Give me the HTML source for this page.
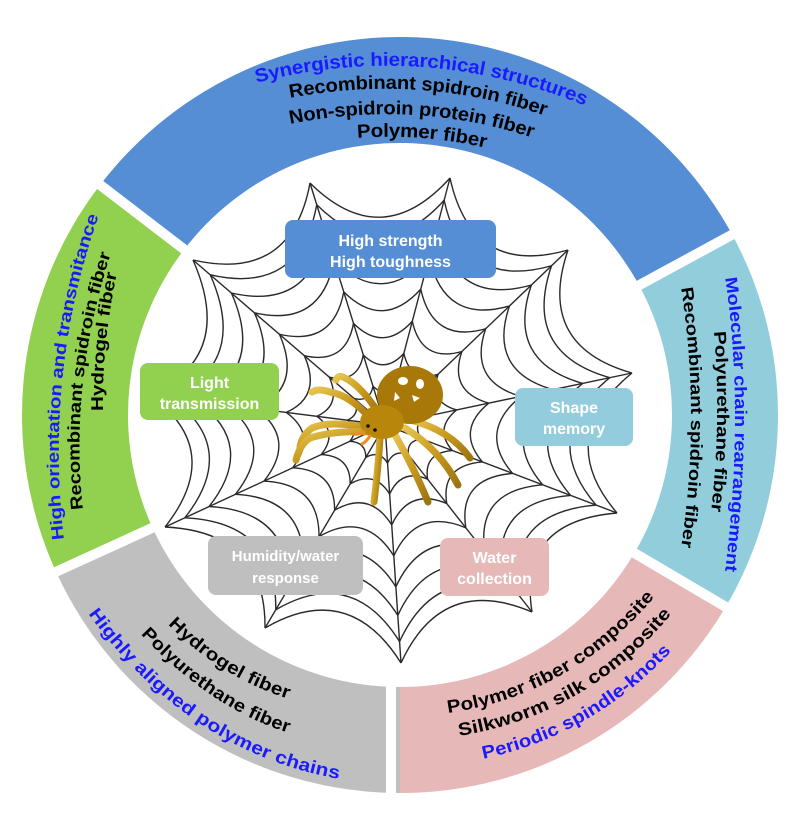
<!DOCTYPE html>
<html><head><meta charset="utf-8">
<style>
html,body{margin:0;padding:0;background:#fff;}
svg{display:block;}
.lbl{font-family:"Liberation Sans",Arial,sans-serif;font-weight:bold;}
</style></head>
<body>
<svg id="s" width="797" height="822" viewBox="0 0 797 822" xmlns="http://www.w3.org/2000/svg">
<defs>
<linearGradient id="leg" x1="0" y1="0" x2="1" y2="1">
<stop offset="0" stop-color="#e6c450"/><stop offset="0.5" stop-color="#c99a1e"/><stop offset="1" stop-color="#9c7410"/>
</linearGradient>
<path id="t1"/><path id="t2"/><path id="t3"/><path id="t4"/>
<path id="g1"/><path id="g2"/><path id="g3"/>
<path id="c1"/><path id="c2"/><path id="c3"/>
<path id="r1"/><path id="r2"/><path id="r3"/>
<path id="k1"/><path id="k2"/><path id="k3"/>
</defs>
<g id="ring"></g>
<g id="web" fill="none" stroke="#2a2a2a" stroke-width="1.4"></g>

<g id="spider">
<g fill="none" stroke="url(#leg)" stroke-width="7" stroke-linecap="round" stroke-linejoin="round">
<path d="M372,420 Q350,395 330,392 Q318,388 312,392"/>
<path d="M378,412 Q360,385 345,378 Q338,374 336,380"/>
<path d="M368,428 Q330,420 312,428 Q302,435 300,447"/>
<path d="M372,432 Q335,430 310,438 Q300,444 296,460"/>
<path d="M380,438 Q378,470 374,502"/>
<path d="M395,435 Q415,470 428,502"/>
<path d="M405,428 Q440,450 458,485"/>
<path d="M410,420 Q450,430 470,458"/>
</g>
<ellipse cx="410" cy="395" rx="33" ry="29" fill="#a87808"/>
<ellipse cx="382" cy="422" rx="22" ry="17" fill="#b8860b"/>
<ellipse cx="403" cy="381" rx="5" ry="4" fill="#fff"/>
<ellipse cx="420" cy="384" rx="4" ry="5" fill="#fff"/>
<path d="M395,392 l5,6 l-6,3 z" fill="#fff"/>
<path d="M412,395 l8,3 l-6,4 z" fill="#fff"/>
<circle cx="368" cy="426" r="1.8" fill="#111"/><circle cx="375" cy="430" r="1.8" fill="#111"/>
<path d="M364,432 q-6,3 -10,2 M370,436 q-4,6 -8,8" stroke="#f08a1a" stroke-width="3" fill="none" stroke-linecap="round"/>
</g>

<rect x="285" y="220" width="211" height="58" rx="8" fill="#558ed5"/>
<text class="lbl" x="390.5" y="246" font-size="16" fill="#fff" text-anchor="middle">High strength</text>
<text class="lbl" x="390.5" y="267" font-size="16" fill="#fff" text-anchor="middle">High toughness</text>

<rect x="140" y="363" width="139" height="57" rx="8" fill="#92d050"/>
<text class="lbl" x="209.5" y="388" font-size="16" fill="#fff" text-anchor="middle">Light</text>
<text class="lbl" x="209.5" y="409" font-size="16" fill="#fff" text-anchor="middle">transmission</text>

<rect x="515" y="388" width="118" height="58" rx="8" fill="#93cddd"/>
<text class="lbl" x="574" y="413" font-size="16" fill="#fff" text-anchor="middle">Shape</text>
<text class="lbl" x="574" y="434" font-size="16" fill="#fff" text-anchor="middle">memory</text>

<rect x="208" y="536" width="155" height="59" rx="8" fill="#bfbfbf"/>
<text class="lbl" x="285.5" y="561" font-size="15" fill="#fff" text-anchor="middle">Humidity/water</text>
<text class="lbl" x="285.5" y="583" font-size="15" fill="#fff" text-anchor="middle">response</text>

<rect x="440" y="538" width="109" height="58" rx="8" fill="#e6b9b8"/>
<text class="lbl" x="494.5" y="563" font-size="16" fill="#fff" text-anchor="middle">Water</text>
<text class="lbl" x="494.5" y="584" font-size="16" fill="#fff" text-anchor="middle">collection</text>

<g class="lbl" dominant-baseline="central">
<text font-size="19" fill="#1a1aff"><textPath class="tp" href="#t1">Synergistic hierarchical structures</textPath></text>
<text font-size="19" fill="#000"><textPath class="tp" href="#t2">Recombinant spidroin fiber</textPath></text>
<text font-size="19" fill="#000"><textPath class="tp" href="#t3">Non-spidroin protein fiber</textPath></text>
<text font-size="19" fill="#000"><textPath class="tp" href="#t4">Polymer fiber</textPath></text>

<text font-size="17" fill="#1a1aff"><textPath class="tp" href="#g1">High orientation and transmitance</textPath></text>
<text font-size="17" fill="#000"><textPath class="tp" href="#g2">Recombinant spidroin fiber</textPath></text>
<text font-size="17" fill="#000"><textPath class="tp" href="#g3">Hydrogel fiber</textPath></text>

<text font-size="17" fill="#1a1aff"><textPath class="tp" href="#c1">Molecular chain rearrangement</textPath></text>
<text font-size="17" fill="#000"><textPath class="tp" href="#c2">Polyurethane fiber</textPath></text>
<text font-size="17" fill="#000"><textPath class="tp" href="#c3">Recombinant spidroin fiber</textPath></text>

<text font-size="18" fill="#000"><textPath class="tp" href="#r1">Hydrogel fiber</textPath></text>
<text font-size="18" fill="#000"><textPath class="tp" href="#r2">Polyurethane fiber</textPath></text>
<text font-size="18" fill="#1a1aff"><textPath class="tp" href="#r3">Highly aligned polymer chains</textPath></text>

<text font-size="18" fill="#000"><textPath class="tp" href="#k1">Polymer fiber composite</textPath></text>
<text font-size="18" fill="#000"><textPath class="tp" href="#k2">Silkworm silk  composite</textPath></text>
<text font-size="18" fill="#1a1aff"><textPath class="tp" href="#k3">Periodic spindle-knots</textPath></text>
</g>
</svg>
<script>
(function(){
var NS="http://www.w3.org/2000/svg";
var cx=400,cy=415,R=378,r=272;
function P(rad,a){a=a*Math.PI/180;return [cx+rad*Math.cos(a),cy-rad*Math.sin(a)];}
function sector(a0,a1,col){
 var p1=P(R,a0),p2=P(R,a1),p3=P(r,a1),p4=P(r,a0),lg=(a1-a0)>180?1:0;
 var d="M"+p1+" A"+R+","+R+" 0 "+lg+" 0 "+p2+" L"+p3+" A"+r+","+r+" 0 "+lg+" 1 "+p4+" Z";
 var e=document.createElementNS(NS,"path");e.setAttribute("d",d);e.setAttribute("fill",col);
 document.getElementById("ring").appendChild(e);
}
sector(28.5,142.5,"#558ed5");
sector(142.5,204.5,"#92d050");
sector(204.5,270,"#bfbfbf");
sector(270,329.5,"#e6b9b8");
sector(329.5,388.5,"#92cddc");
var ring=document.getElementById("ring");
[28.5,142.5,204.5,329.5].forEach(function(a){
 var p0=P(230,a),p1=P(400,a);
 var l=document.createElementNS(NS,"line");
 l.setAttribute("x1",p0[0]);l.setAttribute("y1",p0[1]);l.setAttribute("x2",p1[0]);l.setAttribute("y2",p1[1]);
 l.setAttribute("stroke","#fff");l.setAttribute("stroke-width","10");ring.appendChild(l);
});
var l=document.createElementNS(NS,"rect");
l.setAttribute("x","386");l.setAttribute("y","620");l.setAttribute("width","10");l.setAttribute("height","200");l.setAttribute("fill","#fff");ring.appendChild(l);

var T={
 t1:[[255,77],[422,61],[587,100]],
 t2:[[289,92],[420,84],[547,110]],
 t3:[[289,118],[414,109],[534,132]],
 t4:[[357,132],[422,132],[487,142]],
 g1:[[58,540],[57,373],[93,214]],
 g2:[[77,510],[77,382],[105,252]],
 g3:[[97,411],[100,342],[111,272]],
 c1:[[731,277],[741,417],[731,572]],
 c2:[[720,331],[723,422],[717,512]],
 c3:[[687,287],[697,417],[687,548]],
 r1:[[172,620],[227,664],[290,693]],
 r2:[[145,630],[216,691],[290,727]],
 r3:[[93,610],[204,719],[340,773]],
 k1:[[447,707],[558,670],[650,593]],
 k2:[[458,730],[573,690],[667,610]],
 k3:[[482,753],[582,715],[667,647]]
};
for(var k in T){
 var s=T[k][0],m=T[k][1],e=T[k][2];
 var c=[(4*m[0]-s[0]-e[0])/2,(4*m[1]-s[1]-e[1])/2];
 document.getElementById(k).setAttribute("d","M"+s+" Q"+c+" "+e);
}
document.querySelectorAll(".tp").forEach(function(tp){
 var id=tp.getAttribute("href").slice(1);
 var L=document.getElementById(id).getTotalLength();
 tp.setAttribute("textLength",L.toFixed(1));
 tp.setAttribute("lengthAdjust","spacingAndGlyphs");
});

var C=[385,425];
var V=[[310,183],[450,178],[568,250],[632,373],[617,513],[532,612],[401,663],[265,628],[165,527],[150,395],[193,260]];
var web=document.getElementById("web");
function add(d){var p=document.createElementNS(NS,"path");p.setAttribute("d",d);web.appendChild(p);}
V.forEach(function(v){add("M"+C+" L"+v);});
var fr=[0.16,0.29,0.42,0.55,0.68,0.80,0.91,1.0];
fr.forEach(function(f){
 var d="";
 for(var i=0;i<V.length;i++){
  var a=V[i],b=V[(i+1)%V.length];
  var pa=[C[0]+(a[0]-C[0])*f,C[1]+(a[1]-C[1])*f];
  var pb=[C[0]+(b[0]-C[0])*f,C[1]+(b[1]-C[1])*f];
  var mx=(pa[0]+pb[0])/2,my=(pa[1]+pb[1])/2;
  var q=[mx+(C[0]-mx)*0.3,my+(C[1]-my)*0.3];
  d+="M"+pa+" Q"+q+" "+pb+" ";
 }
 add(d);
});
})();
</script>
</body></html>
